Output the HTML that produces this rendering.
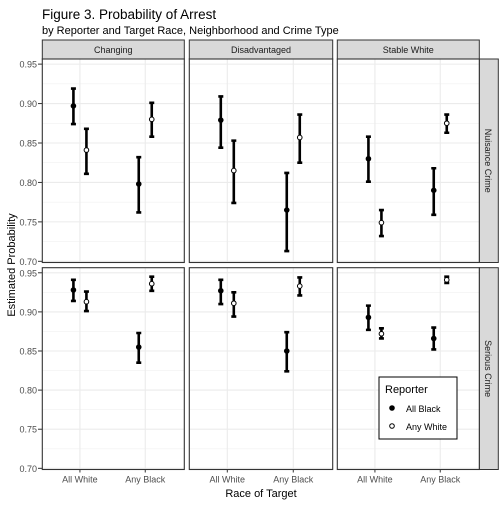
<!DOCTYPE html>
<html><head><meta charset="utf-8"><style>
body{margin:0;background:#fff}
svg text{font-family:"Liberation Sans",Arial,sans-serif}
</style></head><body>
<svg id="c" width="504" height="504" xmlns="http://www.w3.org/2000/svg">
<text x="42" y="19" font-size="13.5" fill="#000">Figure 3. Probability of Arrest</text>
<text x="42" y="34" font-size="11" fill="#000">by Reporter and Target Race, Neighborhood and Crime Type</text>
<text transform="translate(15,265) rotate(-90)" text-anchor="middle" font-size="11">Estimated Probability</text>
<text x="261" y="497" text-anchor="middle" font-size="11">Race of Target</text>
<g id="g"></g>
</svg>
<script>
const neighborhoods=["Changing","Disadvantaged","Stable White"];
const crimes=["Nuisance Crime","Serious Crime"];
const categories=["All White","Any Black"];
const yTicks=[0.70,0.75,0.80,0.85,0.90,0.95];
const yTickLabels=["0.70","0.75","0.80","0.85","0.90","0.95"];
const blackEst=[[[0.897,0.798],[0.879,0.765],[0.830,0.790]],[[0.928,0.855],[0.927,0.850],[0.893,0.866]]];
const blackLo=[[[0.874,0.762],[0.844,0.713],[0.801,0.759]],[[0.914,0.835],[0.910,0.824],[0.877,0.852]]];
const blackHi=[[[0.919,0.832],[0.909,0.812],[0.858,0.818]],[[0.941,0.873],[0.941,0.874],[0.908,0.880]]];
const whiteEst=[[[0.841,0.880],[0.815,0.857],[0.749,0.875]],[[0.913,0.936],[0.911,0.933],[0.872,0.941]]];
const whiteLo=[[[0.811,0.858],[0.774,0.825],[0.732,0.863]],[[0.901,0.927],[0.894,0.921],[0.866,0.937]]];
const whiteHi=[[[0.868,0.901],[0.853,0.886],[0.765,0.886]],[[0.926,0.945],[0.925,0.944],[0.879,0.945]]];

const NS="http://www.w3.org/2000/svg";
const g=document.getElementById('g');
function mk(t,a,p){const e=document.createElementNS(NS,t);for(const k in a)e.setAttribute(k,a[k]);(p||g).appendChild(e);return e;}
const px=[[42.3,184.3],[189.3,332.7],[337.3,479.3]];
const py=[[59,262.5],[267.7,469.5]];
const yMin=0.6985,yMax=0.9565;
const stripTop=40;
crimes.forEach((cr,r)=>{
 const [t,b]=py[r];
 const Y=v=>b-(v-yMin)/(yMax-yMin)*(b-t);
 const rs=mk('rect',{x:479.3,y:t,width:19,height:b-t,fill:'#d9d9d9',stroke:'#333','stroke-width':1});
 
 
 const rt=mk('text',{transform:`translate(485,${(t+b)/2}) rotate(90)`,'text-anchor':'middle','font-size':9,fill:'#1a1a1a'});
 rt.textContent=cr;
 
 
 yTicks.forEach((v,i)=>{
  const tl=mk('text',{x:37,y:Y(v)+3.5,'text-anchor':'end','font-size':9,fill:'#4d4d4d'});
  tl.textContent=yTickLabels[i];
  
  
  mk('line',{x1:38,x2:42,y1:Y(v),y2:Y(v),stroke:'#333'});
 });
 neighborhoods.forEach((nb,c)=>{
  const [l,rr]=px[c];
  const cx=i=>l+(rr-l)*(0.265+i*0.46);
  if(r===0){
   const s=mk('rect',{x:l,y:stripTop,width:rr-l,height:19,fill:'#d9d9d9',stroke:'#333'});
   
   
   const st=mk('text',{x:(l+rr)/2,y:stripTop+13,'text-anchor':'middle','font-size':9,fill:'#1a1a1a'});
   st.textContent=nb;
   
   
  }
  const bg=mk('rect',{x:l,y:t,width:rr-l,height:b-t,fill:'#fff'});
  
  
  for(let v=0.725;v<0.96;v+=0.05)mk('line',{x1:l,x2:rr,y1:Y(v),y2:Y(v),stroke:'#f0f0f0','stroke-width':0.6});
  yTicks.forEach(v=>mk('line',{x1:l,x2:rr,y1:Y(v),y2:Y(v),stroke:'#ebebeb','stroke-width':1.1}));
  categories.forEach((cat,i)=>{
   mk('line',{x1:cx(i),x2:cx(i),y1:t,y2:b,stroke:'#ebebeb','stroke-width':1.1});
   if(r===1){
    mk('line',{x1:cx(i),x2:cx(i),y1:b,y2:b+3,stroke:'#333'});
    const xl=mk('text',{x:cx(i),y:b+13,'text-anchor':'middle','font-size':9,fill:'#4d4d4d'});
    xl.textContent=cat;
    
    
   }
   [[blackEst,blackLo,blackHi,-6.5,'#000','all-black'],[whiteEst,whiteLo,whiteHi,6.5,'#fff','any-white']].forEach(([E,L,H,d,f,nm])=>{
    const x=cx(i)+d;
    const eb=mk('path',{d:`M${x-2.5},${Y(H[r][c][i])}H${x+2.5}M${x},${Y(H[r][c][i])}V${Y(L[r][c][i])}M${x-2.5},${Y(L[r][c][i])}H${x+2.5}`,stroke:'#000','stroke-width':2.6,fill:'none'});
    
    
    const pt=mk('circle',{cx:x,cy:Y(E[r][c][i]),r:2.3,fill:f,stroke:'#000','stroke-width':1});
    
    
   });
  });
  mk('rect',{x:l,y:t,width:rr-l,height:b-t,fill:'none',stroke:'#333','stroke-width':1.1});
 });
});
const lg=mk('g',{});


mk('rect',{x:379,y:377,width:78,height:62,fill:'#fff',stroke:'#000','stroke-width':1},lg);
const lt=mk('text',{x:385,y:393,'font-size':11},lg);lt.textContent='Reporter';
const items=["All Black","Any White"];
items.forEach((s,i)=>{
 const e=mk('g',{},lg);
 
 
 mk('circle',{cx:392,cy:408+i*18,r:2.3,fill:i?'#fff':'#000',stroke:'#000'},e);
 const tx=mk('text',{x:406,y:412+i*18,'font-size':9},e);tx.textContent=s;
});
</script>
</body></html>
